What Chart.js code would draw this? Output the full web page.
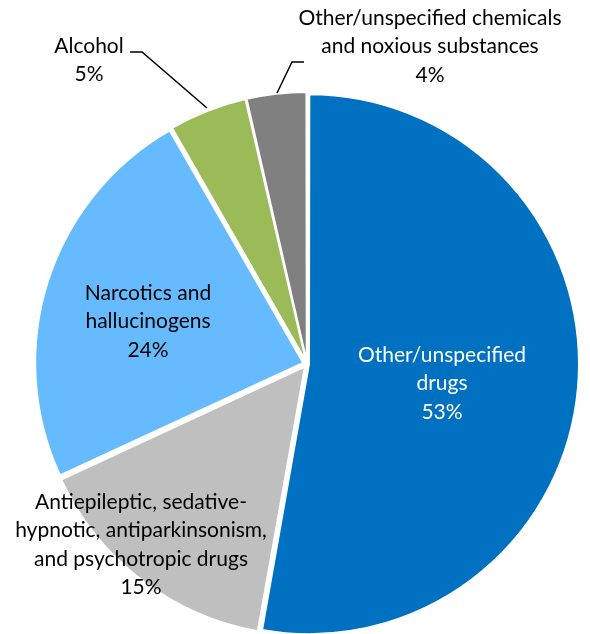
<!DOCTYPE html>
<html>
<head>
<meta charset="utf-8">
<script src="https://cdn.jsdelivr.net/npm/chart.js@4.4.1/dist/chart.umd.min.js"></script>
<style>
  html, body { margin: 0; padding: 0; background: #fff; }
  #wrap { width: 590px; height: 634px; position: relative; }
</style>
</head>
<body>
<div id="wrap"><canvas id="grafico"></canvas></div>
<script>
const categorias = [
  ["Other/unspecified", "drugs"],
  ["Antiepileptic, sedative-", "hypnotic, antiparkinsonism,", "and psychotropic drugs"],
  ["Narcotics and", "hallucinogens"],
  ["Alcohol"],
  ["Other/unspecified chemicals", "and noxious substances"]
];
const valores = [52.8, 15.3, 23.6, 4.7, 3.6];
const cores = ["#0070C0", "#BFBFBF", "#66BBFF", "#9BBB59", "#808080"];

// explode each slice by about the same few pixels
const deslocamentos = [8, 13.6, 16, 9.3, 9.1];

// where the labels sit (centre x, first line y) and leader lines
const posRotulos = [
  { x: 442, y: 355, cor: "#fff" },
  { x: 141, y: 502, cor: "#000" },
  { x: 148, y: 293, cor: "#000" },
  { x: 89, y: 46, cor: "#000" },
  { x: 430, y: 18, cor: "#000" }
];
const linhas = [
  null, null, null,
  [[130, 52], [142, 52], [207, 108]],
  [[304, 62], [292, 62], [277, 93]]
];

const rotulos = {
  id: "rotulos",
  afterDatasetsDraw(chart) {
    const ctx = chart.ctx;
    const total = valores.reduce((a, b) => a + b, 0);
    ctx.save();
    ctx.font = "21px Lato";
    ctx.textAlign = "center";
    ctx.textBaseline = "middle";
    categorias.forEach((linhasTxt, i) => {
      const p = posRotulos[i];
      const txt = linhasTxt.concat([Math.round(valores[i] / total * 100) + "%"]);
      ctx.fillStyle = p.cor;
      txt.forEach((t, k) => ctx.fillText(t, p.x, p.y + k * 28.5));
      if (linhas[i]) {
        ctx.strokeStyle = "#000";
        ctx.lineWidth = 1.5;
        ctx.beginPath();
        linhas[i].forEach((pt, k) => k ? ctx.lineTo(pt[0], pt[1]) : ctx.moveTo(pt[0], pt[1]));
        ctx.stroke();
      }
    });
    ctx.restore();
  }
};

new Chart(document.getElementById("grafico").getContext("2d"), {
  type: "pie",
  data: {
    labels: categorias,
    datasets: [{
      data: valores,
      backgroundColor: cores,
      borderColor: "#fff",
      borderWidth: 2,
      offset: deslocamentos,
      radius: 268
    }]
  },
  options: {
    responsive: true,
    maintainAspectRatio: false,
    animation: false,
    layout: { padding: { left: 24, right: 0, top: 94, bottom: 0 } },
    plugins: {
      legend: { display: false },
      tooltip: { enabled: false },
      title: { display: false }
    }
  },
  plugins: [rotulos]
});
</script>
</body>
</html>
